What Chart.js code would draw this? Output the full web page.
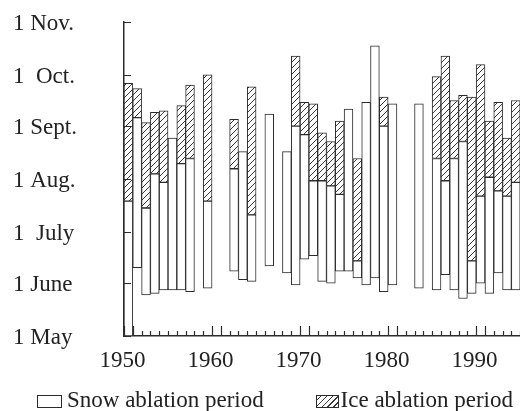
<!DOCTYPE html>
<html>
<head>
<meta charset="utf-8">
<script src="https://cdn.jsdelivr.net/npm/chart.js@4/dist/chart.umd.min.js"></script>
<style>
  html, body { margin: 0; padding: 0; background: #fff; overflow: hidden; }
  #wrap { position: relative; width: 530px; height: 411px; }
  .item {
    position: absolute; top: 388px;
    display: flex; align-items: baseline;
    font-family: "Liberation Serif", "Times New Roman", serif;
    font-size: 23px; line-height: 23px; color: #222; white-space: nowrap;
  }
  #snowItem { left: 37px; }
  #iceItem { right: 17px; }
  .box {
    display: inline-block; height: 11px; border: 1px solid #2b2b2b;
    background: #fff; position: relative; top: 1px;
  }
  .snow { width: 23px; margin-right: 5px; }
  .ice {
    width: 21px; margin-right: 2px;
    background: repeating-linear-gradient(-45deg, #fff 0, #fff 2.6px, #3a3a3a 2.6px, #3a3a3a 3.6px, #fff 3.6px, #fff 4.2px);
  }
</style>
</head>
<body>
<div id="wrap">
  <canvas id="ablation" width="530" height="411"></canvas>
  <div class="item" id="snowItem"><span class="box snow"></span><span>Snow ablation period</span></div>
  <div class="item" id="iceItem"><span class="box ice"></span><span>Ice ablation period</span></div>
</div>
<script>
// days counted from 1 May
var years = [];
for (var yr = 1950; yr <= 1995; yr++) years.push(String(yr));

var snowStart = [0, 40, 24, 25, 27, 27, 27, 26, null, 28,
                 null, null, 38, 33, 32, null, 41, null, 37, 30,
                 45, 47, 32, 31, 38, 38, 34, 30, 34, 26,
                 30, null, null, 28, null, 27, 36, 27, 22, 25,
                 31, 25, 37, 27, 27, null];
var snowEnd = [79, 128, 75, 95, 90, 116, 101, 104, null, 79,
               null, null, 98, 108, 71, null, 130, null, 108, 123,
               118, 91, 91, 88, 83, 133, 44, 137, 170, 123,
               136, null, null, 136, null, 104, 91, 104, 114, 44,
               82, 93, 85, 82, 90, null];
var iceEnd = [148, 145, 125, 131, 132, null, 135, 147, null, 153,
              null, null, 127, null, 146, null, null, null, null, 164,
              137, 136, 119, 114, 126, null, 104, null, null, 140,
              null, null, null, null, null, 152, 164, 138, 141, 140,
              159, 126, 137, 116, 138, null];

var monthDays = [0, 31, 61, 92, 123, 153, 184];
var monthLabels = ['1 May', '1 June', '1  July', '1 Aug.', '1 Sept.', '1  Oct.', '1 Nov.'];

var FONT = '"Liberation Serif", "Times New Roman", serif';
var INK = '#2b2b2b';

function hatchPattern() {
    var c = document.createElement('canvas');
    c.width = 6;
    c.height = 6;
    var g = c.getContext('2d');
    g.fillStyle = '#fff';
    g.fillRect(0, 0, 6, 6);
    g.strokeStyle = '#3a3a3a';
    g.lineWidth = 1;
    g.beginPath();
    g.moveTo(0, 6); g.lineTo(6, 0);
    g.moveTo(-1, 1); g.lineTo(1, -1);
    g.moveTo(5, 7); g.lineTo(7, 5);
    g.stroke();
    return g.createPattern(c, 'repeat');
}

var snowData = years.map(function (y, i) {
    return snowStart[i] === null ? null : [snowStart[i], snowEnd[i]];
});
var iceData = years.map(function (y, i) {
    return iceEnd[i] === null ? null : [snowEnd[i], iceEnd[i]];
});

// short ticks drawn inside the plot, like the printed figure
var innerTicks = {
    id: 'innerTicks',
    afterDatasetsDraw: function (chart) {
        var ctx = chart.ctx;
        var xs = chart.scales.x;
        var ys = chart.scales.y;
        var area = chart.chartArea;
        var slot = xs.width / years.length;
        ctx.save();
        ctx.strokeStyle = INK;
        ctx.lineWidth = 1.2;
        ctx.beginPath();
        for (var i = 0; i <= years.length; i++) {
            var x = Math.round(xs.left + i * slot) + 0.5;
            var decade = (i < years.length && +years[i] % 10 === 0) ||
                         (i > 0 && +years[i - 1] % 10 === 0);
            var len = decade ? 10 : 5;
            ctx.moveTo(x, area.bottom);
            ctx.lineTo(x, area.bottom - len);
        }
        monthDays.forEach(function (d) {
            var y = Math.round(ys.getPixelForValue(d)) + 0.5;
            ctx.moveTo(area.left, y);
            ctx.lineTo(area.left + 7, y);
        });
        ctx.stroke();
        ctx.restore();
    }
};

var ctx = document.getElementById('ablation').getContext('2d');
var chart = new Chart(ctx, {
    type: 'bar',
    data: {
        labels: years,
        datasets: [
            {
                label: 'Snow ablation period',
                data: snowData,
                backgroundColor: '#fff',
                borderColor: INK,
                borderWidth: 1,
                borderSkipped: false,
                grouped: false,
                barPercentage: 1,
                categoryPercentage: 1
            },
            {
                label: 'Ice ablation period',
                data: iceData,
                backgroundColor: hatchPattern(),
                borderColor: INK,
                borderWidth: 1,
                borderSkipped: false,
                grouped: false,
                barPercentage: 1,
                categoryPercentage: 1
            }
        ]
    },
    options: {
        responsive: false,
        animation: false,
        layout: { padding: { left: 13, right: 1, top: 22, bottom: 35 } },
        scales: {
            x: {
                type: 'category',
                offset: true,
                grid: { display: false },
                border: { display: true, color: INK, width: 1.5 },
                ticks: {
                    autoSkip: false,
                    maxRotation: 0,
                    padding: 3,
                    labelOffset: -6,
                    color: '#222',
                    font: { family: FONT, size: 23 },
                    callback: function (v, i) {
                        return +years[i] % 10 === 0 ? years[i] : '';
                    }
                },
                afterFit: function (scale) { scale.height = 40; }
            },
            y: {
                min: 0,
                max: 184,
                grid: { display: false },
                border: { display: true, color: INK, width: 1.5 },
                afterBuildTicks: function (scale) {
                    scale.ticks = monthDays.map(function (d) { return { value: d }; });
                },
                ticks: {
                    crossAlign: 'far',
                    labelOffset: 2,
                    color: '#222',
                    font: { family: FONT, size: 23 },
                    callback: function (v, i) { return monthLabels[i]; }
                },
                afterFit: function (scale) { scale.width = 111; }
            }
        },
        plugins: {
            tooltip: { enabled: false },
            legend: { display: false }
        }
    },
    plugins: [innerTicks]
});
</script>
</body>
</html>
